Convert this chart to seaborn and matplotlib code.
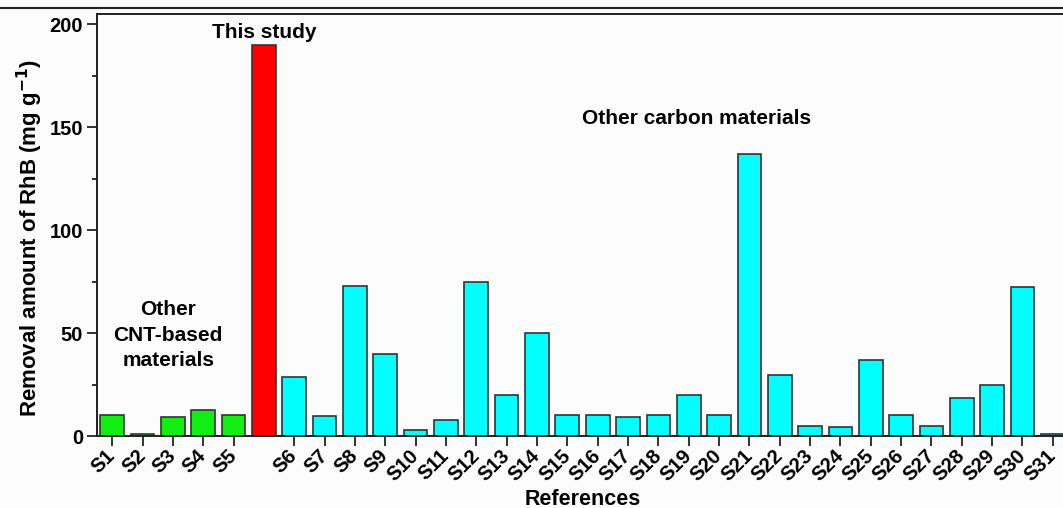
import matplotlib
matplotlib.use("Agg")
import matplotlib.pyplot as plt
from matplotlib.lines import Line2D
from matplotlib.ticker import MultipleLocator
import seaborn as sns

# ---- data ----
names = ["S1", "S2", "S3", "S4", "S5", "This study",
         "S6", "S7", "S8", "S9", "S10", "S11", "S12", "S13", "S14", "S15",
         "S16", "S17", "S18", "S19", "S20", "S21", "S22", "S23", "S24", "S25",
         "S26", "S27", "S28", "S29", "S30", "S31"]
tick_labels = ["S1", "S2", "S3", "S4", "S5", "",
               "S6", "S7", "S8", "S9", "S10", "S11", "S12", "S13", "S14", "S15",
               "S16", "S17", "S18", "S19", "S20", "S21", "S22", "S23", "S24", "S25",
               "S26", "S27", "S28", "S29", "S30", "S31"]
values = [10, 1, 9, 12.5, 10, 190,
          28.5, 9.5, 73, 40, 3, 8, 75, 20, 50, 10,
          10, 9, 10, 20, 10, 137, 29.5, 5, 4.2, 37,
          10, 5, 18.4, 25, 72.3, 1]
groups = ["CNT"] * 5 + ["This study"] + ["Carbon"] * 26
palette = {"CNT": "#11ee11", "This study": "#ff0000", "Carbon": "#00ffff"}

sns.set_style("ticks")
plt.rcParams["font.family"] = ["Liberation Sans", "DejaVu Sans"]
plt.rcParams["font.weight"] = "bold"
plt.rcParams["text.color"] = "black"
plt.rcParams["axes.labelcolor"] = "black"
plt.rcParams["xtick.color"] = "black"
plt.rcParams["ytick.color"] = "black"

fig = plt.figure(figsize=(10.63, 5.08), dpi=100, facecolor="#fcfcfc")
W, H = 1063, 508
ax = fig.add_axes([97 / W, (H - 436) / H, (1068 - 97) / W, (436 - 14) / H])
ax.set_facecolor("#fcfcfc")

sns.barplot(x=names, y=values, hue=groups, palette=palette, dodge=False,
            saturation=1, width=0.78, edgecolor="#333333", linewidth=1.2,
            legend=False, ax=ax)

ax.set_xlim(-0.5, 31.5)
ax.set_ylim(0, 205)
ax.yaxis.set_major_locator(MultipleLocator(50))
ax.yaxis.set_minor_locator(MultipleLocator(25))

idx = [i for i, l in enumerate(tick_labels) if l]
ax.set_xticks(idx)
ax.set_xticklabels([tick_labels[i] for i in idx], rotation=45, ha="right",
                   va="center", rotation_mode="anchor", fontsize=14.5,
                   fontweight="bold")
ax.tick_params(axis="x", direction="out", length=7, width=1.3, pad=5, color="#222222")
ax.tick_params(axis="y", which="major", direction="out", length=7, width=1.3,
               labelsize=14.5, pad=3, color="#222222")
ax.tick_params(axis="y", which="minor", direction="out", length=3.5, width=1.3,
               color="#222222")
for lab in ax.get_yticklabels():
    lab.set_fontweight("bold")

for s in ["left", "bottom", "top", "right"]:
    ax.spines[s].set_linewidth(1.4)
    ax.spines[s].set_color("#222222")

ax.set_xlabel("References", fontsize=15.5, fontweight="bold", labelpad=3)
ax.set_ylabel("Removal amount of RhB (mg g$^{\\mathbf{-1}}$)", fontsize=16,
              fontweight="bold")
ax.yaxis.set_label_coords(-0.054, 0.47)

ax.text(5, 196, "This study", ha="center", va="center", fontsize=15, fontweight="bold")
ax.text(19.25, 154, "Other carbon materials", ha="center", va="center",
        fontsize=15, fontweight="bold")
ax.text(1.85, 49, "Other\nCNT-based\nmaterials", ha="center", va="center",
        fontsize=15, fontweight="bold", linespacing=1.45)

fig.add_artist(Line2D([0, 1], [1 - 8 / H, 1 - 8 / H], transform=fig.transFigure,
                      color="#222222", linewidth=1.5))

fig.savefig("out.png", dpi=100, facecolor=fig.get_facecolor())
